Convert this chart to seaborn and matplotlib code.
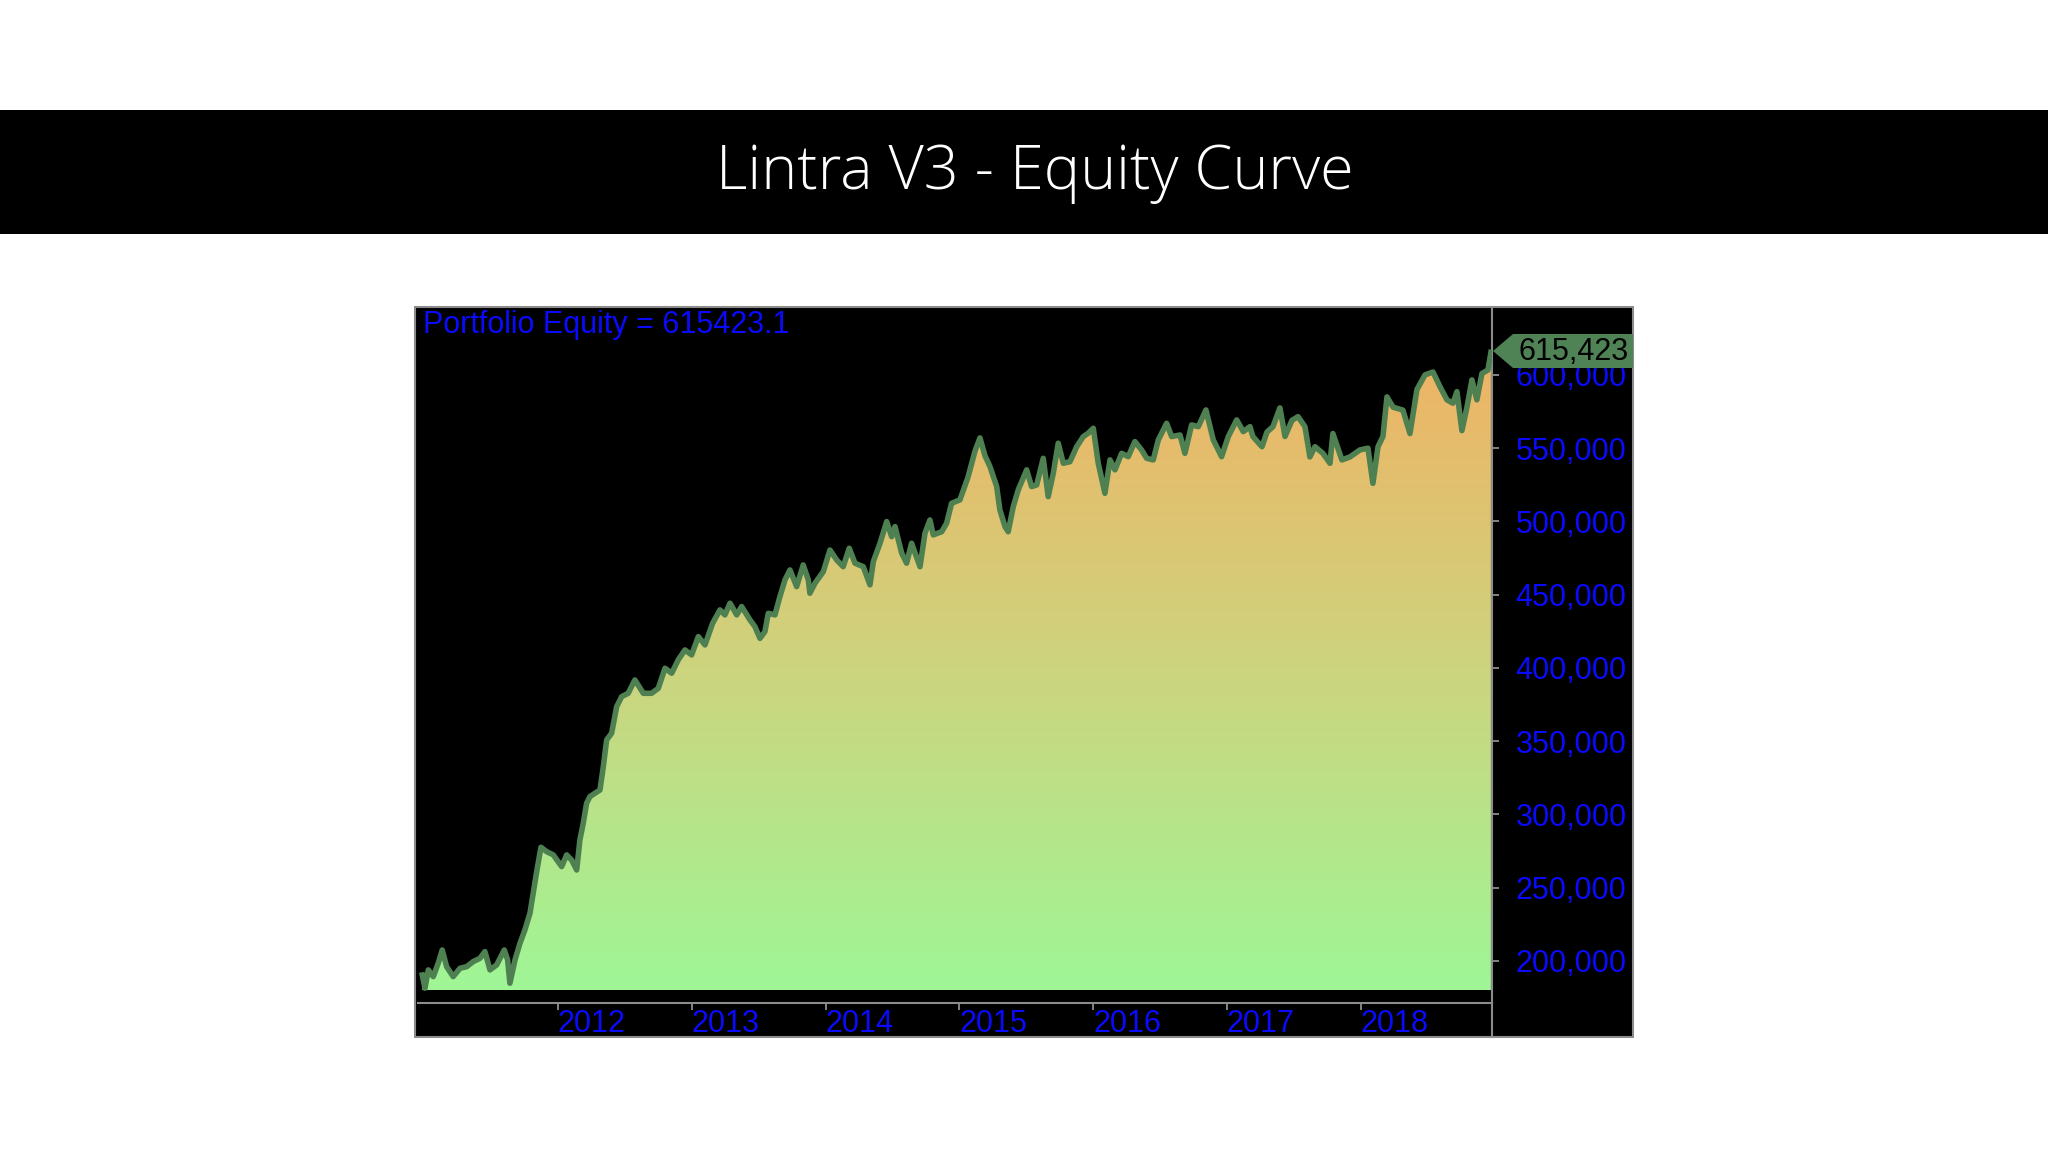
import matplotlib
matplotlib.use("Agg")
import matplotlib.pyplot as plt
from matplotlib.colors import LinearSegmentedColormap
from matplotlib.patches import Rectangle, Polygon
from matplotlib.lines import Line2D
import numpy as np
import pandas as pd
import seaborn as sns

# equity curve (decimal year, equity)
years = [
    2010.986, 2011.006, 2011.031, 2011.068, 2011.105, 2011.135, 2011.168, 2011.217,
    2011.268, 2011.318, 2011.367, 2011.417, 2011.454, 2011.492, 2011.542, 2011.599,
    2011.624, 2011.641, 2011.679, 2011.716, 2011.753, 2011.791, 2011.815, 2011.841,
    2011.873, 2011.916, 2011.965, 2012.028, 2012.065, 2012.102, 2012.140, 2012.164,
    2012.189, 2012.214, 2012.239, 2012.277, 2012.314, 2012.339, 2012.364, 2012.401,
    2012.439, 2012.476, 2012.525, 2012.575, 2012.638, 2012.700, 2012.750, 2012.800,
    2012.850, 2012.899, 2012.949, 2012.999, 2013.049, 2013.099, 2013.156, 2013.211,
    2013.248, 2013.286, 2013.336, 2013.373, 2013.435, 2013.472, 2013.510, 2013.547,
    2013.572, 2013.622, 2013.659, 2013.697, 2013.734, 2013.784, 2013.833, 2013.871,
    2013.883, 2013.921, 2013.983, 2014.033, 2014.083, 2014.132, 2014.177, 2014.220,
    2014.282, 2014.332, 2014.357, 2014.407, 2014.457, 2014.494, 2014.519, 2014.569,
    2014.606, 2014.643, 2014.706, 2014.743, 2014.780, 2014.805, 2014.868, 2014.905,
    2014.942, 2015.004, 2015.064, 2015.117, 2015.154, 2015.191, 2015.229, 2015.279,
    2015.303, 2015.341, 2015.365, 2015.403, 2015.440, 2015.503, 2015.540, 2015.578,
    2015.627, 2015.664, 2015.702, 2015.739, 2015.777, 2015.827, 2015.877, 2015.926,
    2015.963, 2016.001, 2016.038, 2016.088, 2016.126, 2016.163, 2016.213, 2016.262,
    2016.312, 2016.362, 2016.400, 2016.449, 2016.487, 2016.549, 2016.587, 2016.649,
    2016.686, 2016.736, 2016.786, 2016.843, 2016.898, 2016.960, 2017.010, 2017.073,
    2017.122, 2017.172, 2017.194, 2017.262, 2017.299, 2017.344, 2017.396, 2017.434,
    2017.486, 2017.531, 2017.583, 2017.620, 2017.658, 2017.717, 2017.770, 2017.792,
    2017.859, 2017.919, 2017.994, 2018.054, 2018.091, 2018.129, 2018.166, 2018.196,
    2018.241, 2018.315, 2018.368, 2018.420, 2018.480, 2018.540, 2018.592, 2018.644,
    2018.689, 2018.719, 2018.756, 2018.794, 2018.831, 2018.868, 2018.906, 2018.951,
    2018.973,
]
equity = [
    190400, 181400, 193900, 189300, 198400, 207500, 196100, 189300,
    195000, 196100, 199600, 201800, 206400, 193900, 197300, 207500,
    200700, 184800, 200700, 212000, 221200, 232600, 246200, 261000,
    277600, 274600, 272400, 264400, 272400, 268900, 262100, 282600,
    294000, 307600, 312200, 314500, 316700, 332600, 350900, 355400,
    373600, 380400, 382700, 391800, 382700, 382700, 386100, 399800,
    396400, 405500, 412300, 408900, 421400, 415700, 430500, 439600,
    436200, 444200, 436200, 441900, 432800, 428200, 420200, 424800,
    437300, 436200, 448700, 460100, 466900, 455500, 470300, 460100,
    451000, 457800, 465700, 480500, 473700, 469100, 481700, 471500,
    469100, 456700, 472600, 485100, 499900, 489600, 496500, 478300,
    471500, 485100, 469100, 491900, 501000, 490800, 493000, 498800,
    512400, 514700, 530000, 548000, 557000, 545000, 537400, 523800,
    507800, 496500, 493000, 510100, 521500, 535200, 523800, 524900,
    543100, 516900, 532900, 553400, 539700, 540800, 551000, 557900,
    560200, 563600, 539700, 519200, 542000, 535200, 546500, 544200,
    554500, 548800, 543100, 542000, 555600, 567000, 557900, 559000,
    546500, 565900, 564700, 576100, 555600, 544200, 557900, 569300,
    561300, 564700, 557900, 551000, 561000, 564700, 577500, 558000,
    569000, 571500, 564700, 544000, 551000, 546500, 539700, 560000,
    542000, 544000, 548800, 550000, 526000, 551000, 558000, 585000,
    578000, 576000, 560000, 590000, 600000, 602000, 592000, 583000,
    580700, 588600, 562000, 578000, 596600, 583000, 601000, 603400,
    615423,
]
year_ticks = [2012, 2013, 2014, 2015, 2016, 2017, 2018]
equity_ticks = [200000, 250000, 300000, 350000, 400000, 450000, 500000, 550000, 600000]
last_equity = 615423.1
base = 180000

df = pd.DataFrame({"year": years, "equity": equity})

plt.rcParams['font.family'] = ['Liberation Sans', 'DejaVu Sans']

W, H = 2048, 1152
fig = plt.figure(figsize=(W / 100, H / 100), dpi=100)


def fx(px):
    return px / W


def fy(py):
    return 1 - py / H


blue = '#0a0aff'
frame = '#8c8c8c'

# black title band
fig.patches.append(Rectangle((0, fy(234)), 1, 124 / H, transform=fig.transFigure,
                             facecolor='black', edgecolor='none', zorder=-2))
fig.text(fx(1035), fy(173), "Lintra V3 - Equity Curve", color='white', fontsize=44,
         family=['Open Sans', 'DejaVu Sans'], fontweight='light', ha='center', va='center')

# chart frame
fig.patches.append(Rectangle((fx(415), fy(1037)), (1633 - 415) / W, (1037 - 307) / H,
                             transform=fig.transFigure, facecolor='black',
                             edgecolor=frame, linewidth=1.5, zorder=-1))
fig.lines.append(Line2D([fx(1492), fx(1492)], [fy(1003), fy(1037)], transform=fig.transFigure,
                        color=frame, linewidth=1.5))

ax = fig.add_axes([fx(418), fy(1003), (1492 - 418) / W, (1003 - 309) / H])
ax.set_facecolor('black')

# gradient fill under the curve
poly = ax.fill_between(df.year, df.equity, base, color='none', linewidth=0)
cmap = LinearSegmentedColormap.from_list('eq', ['#9ff696', '#cdd47e', '#f0b264'])
grad = np.linspace(0, 1, 256).reshape(-1, 1)
img = ax.imshow(grad, cmap=cmap, origin='lower', aspect='auto',
                extent=[years[0], years[-1], base, 620000], zorder=1)
img.set_clip_path(poly.get_paths()[0], transform=ax.transData)

sns.lineplot(data=df, x='year', y='equity', ax=ax, color='#4e8052', linewidth=4, zorder=3)

ax.set_xlim(2010.954, 2018.981)
ax.set_ylim(171300, 645000)
ax.yaxis.tick_right()
ax.set_yticks(equity_ticks)
ax.set_yticklabels([f"{v:,}" for v in equity_ticks])
ax.set_xticks(year_ticks)
ax.set_xticklabels([str(y) for y in year_ticks], ha='left')
ax.tick_params(axis='both', colors='#9a9a9a', labelcolor=blue, labelsize=22,
               length=5, width=1.2)
ax.tick_params(axis='y', pad=12)
ax.tick_params(axis='x', pad=-1)
ax.set_xlabel('')
ax.set_ylabel('')
for s in ['top', 'left']:
    ax.spines[s].set_visible(False)
for s in ['bottom', 'right']:
    ax.spines[s].set_color(frame)
    ax.spines[s].set_linewidth(1.5)

fig.text(fx(423), fy(325), f"Portfolio Equity = {last_equity}", color=blue,
         fontsize=22, ha='left', va='center')

# last value marker on the price scale
tag = [(1493, 351), (1513, 334), (1633, 334), (1633, 368), (1513, 368)]
fig.patches.append(Polygon([(fx(x), fy(y)) for x, y in tag], closed=True,
                           transform=fig.transFigure, facecolor='#4f8355', edgecolor='none'))
fig.text(fx(1574), fy(352), f"{last_equity:,.0f}", color='black', fontsize=22,
         ha='center', va='center')

fig.savefig('out.png', dpi=100, facecolor='white')
